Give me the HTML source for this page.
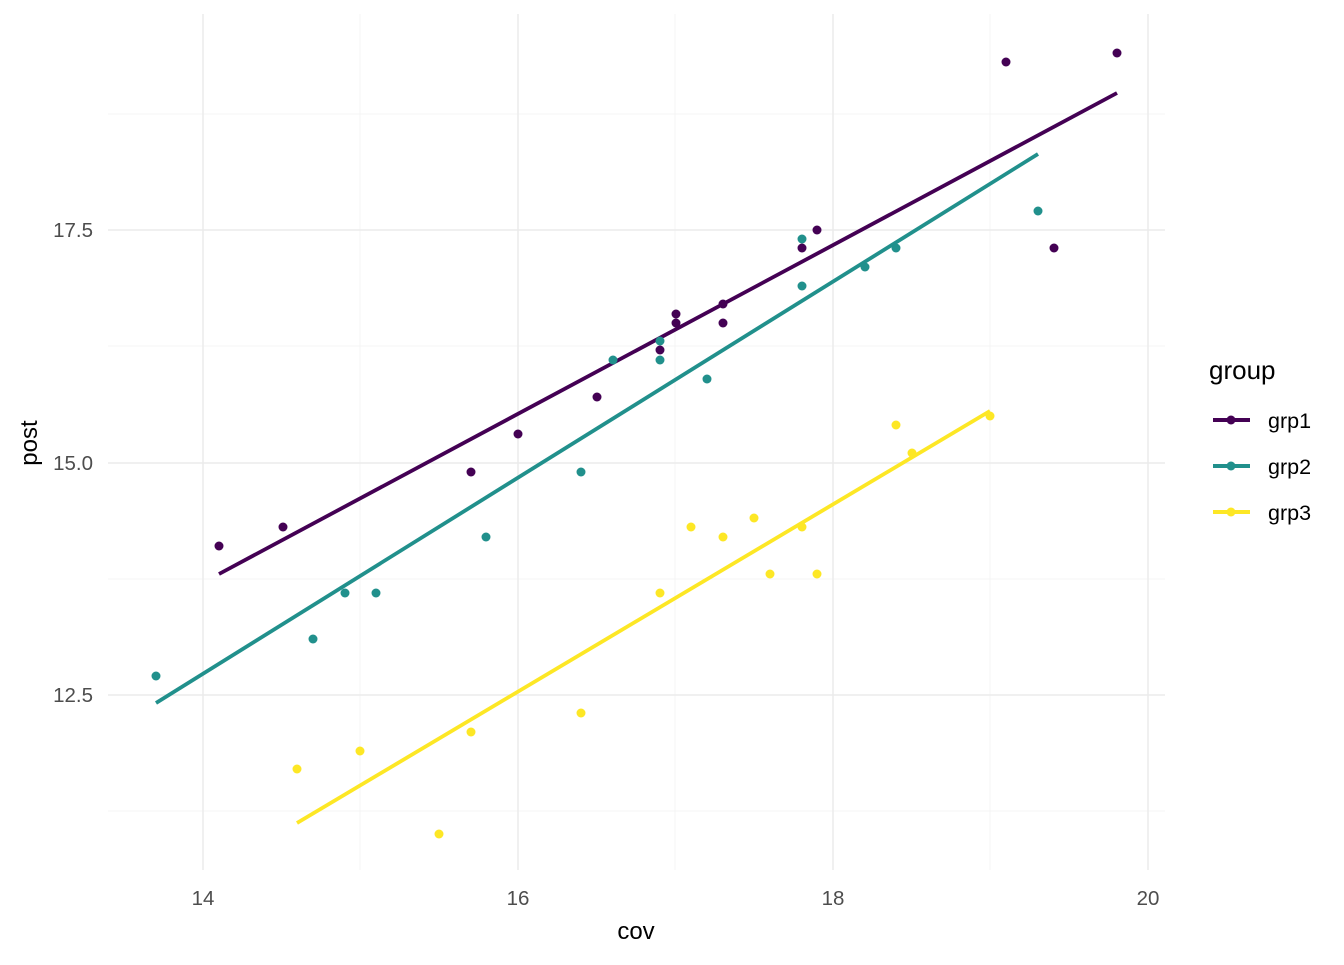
<!DOCTYPE html>
<html><head><style>body{margin:0;background:#fff}</style></head><body>
<svg width="1344" height="960" xmlns="http://www.w3.org/2000/svg" font-family="Liberation Sans, sans-serif">
<g stroke="#f4f4f4" stroke-width="1">
<line x1="360" y1="14" x2="360" y2="870"/><line x1="675" y1="14" x2="675" y2="870"/><line x1="990" y1="14" x2="990" y2="870"/>
<line x1="108" y1="114" x2="1165" y2="114"/><line x1="108" y1="346" x2="1165" y2="346"/><line x1="108" y1="579" x2="1165" y2="579"/><line x1="108" y1="811" x2="1165" y2="811"/>
</g>
<g stroke="#ebebeb" stroke-width="1.5">
<line x1="203" y1="14" x2="203" y2="870"/><line x1="518" y1="14" x2="518" y2="870"/><line x1="833" y1="14" x2="833" y2="870"/><line x1="1148" y1="14" x2="1148" y2="870"/>
<line x1="108" y1="230" x2="1165" y2="230"/><line x1="108" y1="463" x2="1165" y2="463"/><line x1="108" y1="695" x2="1165" y2="695"/>
</g>
<g fill="#4d4d4d" font-size="20.5">
<text x="203" y="905" text-anchor="middle">14</text><text x="518" y="905" text-anchor="middle">16</text><text x="833" y="905" text-anchor="middle">18</text><text x="1148" y="905" text-anchor="middle">20</text>
<text x="93" y="237" text-anchor="end">17.5</text><text x="93" y="470" text-anchor="end">15.0</text><text x="93" y="702" text-anchor="end">12.5</text>
</g>
<text x="636" y="939" text-anchor="middle" font-size="24">cov</text>
<text transform="translate(37,443) rotate(-90)" text-anchor="middle" font-size="24">post</text>
<g stroke-width="3.8">
<line x1="219" y1="574" x2="1117" y2="93" stroke="#440154"/>
<line x1="156" y1="703" x2="1038" y2="154" stroke="#21908C"/>
<line x1="297" y1="823" x2="990" y2="411" stroke="#FDE725"/>
</g>
<g fill="#440154">
<circle cx="219" cy="546" r="4.5"/><circle cx="283" cy="527" r="4.5"/><circle cx="471" cy="472" r="4.5"/><circle cx="518" cy="434" r="4.5"/><circle cx="597" cy="397" r="4.5"/><circle cx="660" cy="350" r="4.5"/><circle cx="676" cy="314" r="4.5"/><circle cx="676" cy="323" r="4.5"/><circle cx="723" cy="304" r="4.5"/><circle cx="723" cy="323" r="4.5"/><circle cx="802" cy="248" r="4.5"/><circle cx="817" cy="230" r="4.5"/><circle cx="1006" cy="62" r="4.5"/><circle cx="1054" cy="248" r="4.5"/><circle cx="1117" cy="53" r="4.5"/>
</g>
<g fill="#21908C">
<circle cx="156" cy="676" r="4.5"/><circle cx="313" cy="639" r="4.5"/><circle cx="345" cy="593" r="4.5"/><circle cx="376" cy="593" r="4.5"/><circle cx="486" cy="537" r="4.5"/><circle cx="581" cy="472" r="4.5"/><circle cx="613" cy="360" r="4.5"/><circle cx="660" cy="341" r="4.5"/><circle cx="660" cy="360" r="4.5"/><circle cx="707" cy="379" r="4.5"/><circle cx="802" cy="239" r="4.5"/><circle cx="802" cy="286" r="4.5"/><circle cx="865" cy="267" r="4.5"/><circle cx="896" cy="248" r="4.5"/><circle cx="1038" cy="211" r="4.5"/>
</g>
<g fill="#FDE725">
<circle cx="297" cy="769" r="4.5"/><circle cx="360" cy="751" r="4.5"/><circle cx="439" cy="834" r="4.5"/><circle cx="471" cy="732" r="4.5"/><circle cx="581" cy="713" r="4.5"/><circle cx="660" cy="593" r="4.5"/><circle cx="691" cy="527" r="4.5"/><circle cx="723" cy="537" r="4.5"/><circle cx="754" cy="518" r="4.5"/><circle cx="770" cy="574" r="4.5"/><circle cx="802" cy="527" r="4.5"/><circle cx="817" cy="574" r="4.5"/><circle cx="896" cy="425" r="4.5"/><circle cx="912" cy="453" r="4.5"/><circle cx="990" cy="416" r="4.5"/>
</g>
<text x="1209" y="379" font-size="26">group</text>
<g stroke-width="4">
<line x1="1213" y1="420" x2="1250" y2="420" stroke="#440154"/>
<line x1="1213" y1="466" x2="1250" y2="466" stroke="#21908C"/>
<line x1="1213" y1="512" x2="1250" y2="512" stroke="#FDE725"/>
</g>
<circle cx="1231" cy="420" r="4.5" fill="#440154"/><circle cx="1231" cy="466" r="4.5" fill="#21908C"/><circle cx="1231" cy="512" r="4.5" fill="#FDE725"/>
<g font-size="21.5"><text x="1268" y="428">grp1</text><text x="1268" y="474">grp2</text><text x="1268" y="520">grp3</text></g>
</svg>
</body></html>
